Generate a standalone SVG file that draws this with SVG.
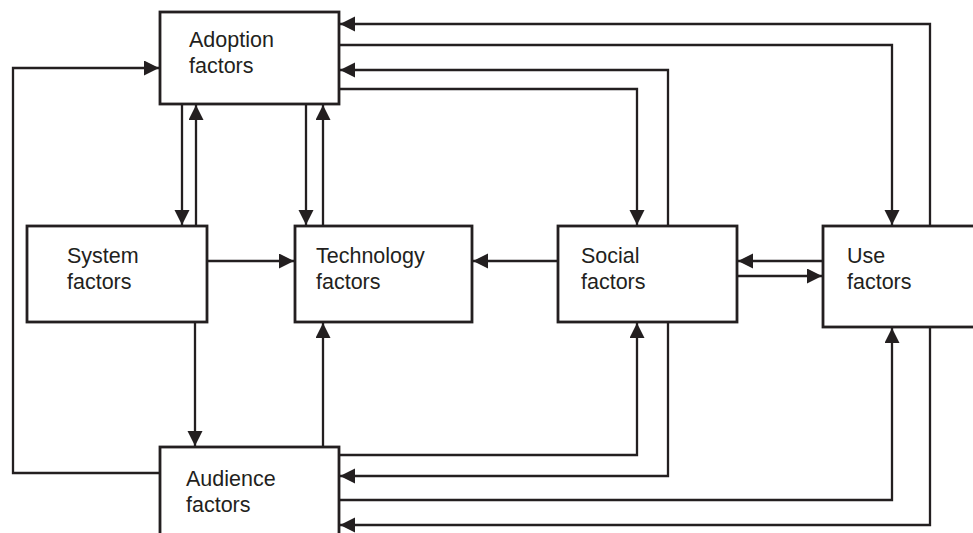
<svg xmlns="http://www.w3.org/2000/svg" width="973" height="533" viewBox="0 0 973 533">
<defs>
<marker id="ah" markerUnits="userSpaceOnUse" markerWidth="16" markerHeight="16" refX="15" refY="7.5" orient="auto">
<path d="M0,0 L15,7.5 L0,15 z" fill="#231f20"/>
</marker>
<style>
.box{fill:#fff;stroke:#231f20;stroke-width:2.8}
.c{fill:none;stroke:#231f20;stroke-width:2.3;marker-end:url(#ah)}
text{font-family:"Liberation Sans",Arial,sans-serif;font-size:21.5px;fill:#231f20}
</style>
</defs>
<rect width="973" height="533" fill="#fff"/>
<g id="connectors">
<path class="c" d="M930,226 V24 H340"/>
<path class="c" d="M339,45 H892 V225"/>
<path class="c" d="M668,226 V70 H340"/>
<path class="c" d="M339,89 H637 V225"/>
<path class="c" d="M160,473 H13 V68 H159"/>
<path class="c" d="M182,104 V225"/>
<path class="c" d="M196,226 V105"/>
<path class="c" d="M306,104 V225"/>
<path class="c" d="M323,226 V105"/>
<path class="c" d="M207,261 H294"/>
<path class="c" d="M558,261 H473"/>
<path class="c" d="M823,261 H738"/>
<path class="c" d="M737,276 H822"/>
<path class="c" d="M195,322 V446"/>
<path class="c" d="M323,447 V323"/>
<path class="c" d="M339,455 H637 V323"/>
<path class="c" d="M668,322 V476 H340"/>
<path class="c" d="M339,500 H892 V328"/>
<path class="c" d="M930,327 V525 H340"/>
</g>
<g id="adoption">
<rect class="box" x="160" y="12" width="179" height="92"/>
<text x="189" y="47">Adoption</text>
<text x="189" y="73">factors</text>
</g>
<g id="system">
<rect class="box" x="27" y="226" width="180" height="96"/>
<text x="67" y="263">System</text>
<text x="67" y="289">factors</text>
</g>
<g id="technology">
<rect class="box" x="295" y="226" width="177" height="96"/>
<text x="316" y="263">Technology</text>
<text x="316" y="289">factors</text>
</g>
<g id="social">
<rect class="box" x="558" y="226" width="179" height="96"/>
<text x="581" y="263">Social</text>
<text x="581" y="289">factors</text>
</g>
<g id="use">
<rect class="box" x="823" y="226" width="160" height="101"/>
<text x="847" y="263">Use</text>
<text x="847" y="289">factors</text>
</g>
<g id="audience">
<rect class="box" x="160" y="447" width="179" height="100"/>
<text x="186" y="486">Audience</text>
<text x="186" y="512">factors</text>
</g>
</svg>
